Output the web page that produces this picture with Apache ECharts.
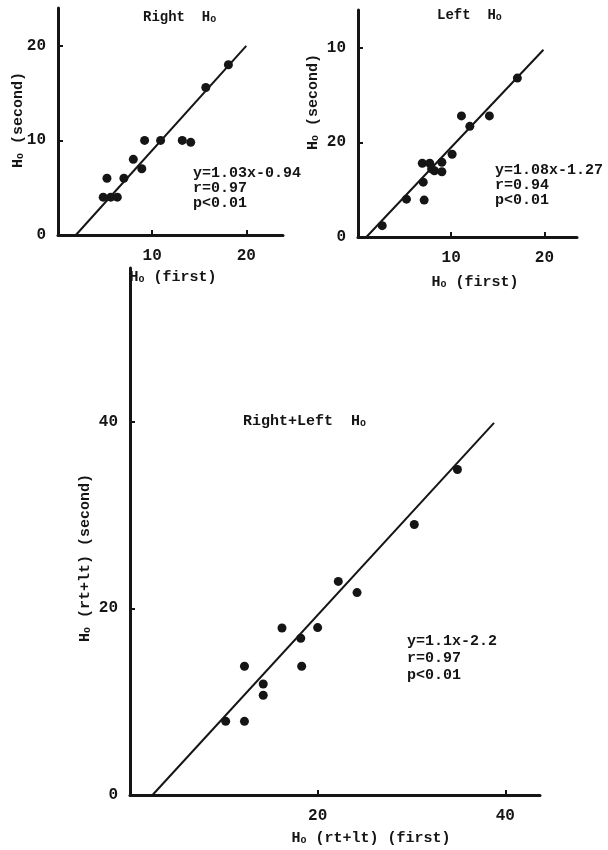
<!DOCTYPE html>
<html>
<head>
<meta charset="utf-8">
<script src="https://cdn.jsdelivr.net/npm/echarts@6/dist/echarts.min.js"></script>
<style>
  html, body { margin: 0; padding: 0; background: #fff; }
  #chart { width: 608px; height: 850px; }
</style>
</head>
<body>
<div id="chart"></div>
<script>
// Right Ho: first vs second
const rightFirst = [4.8, 5.6, 6.3, 5.2, 7.0, 8.0, 8.9, 9.2, 10.9, 13.2, 14.1, 15.7, 18.1]
const rightSecond = [4, 4, 4, 6, 6, 8, 7, 10, 10, 10, 9.8, 15.6, 18]
const rightFit = [[1.9, 0], [20, 20]]

// Left Ho
const leftFirst = [2.6, 5.2, 7.1, 7.0, 6.9, 7.7, 7.9, 8.2, 9.0, 9.0, 10.1, 11.1, 12.0, 14.1, 17.1]
const leftSecond = [1.2, 4.0, 3.9, 5.8, 7.8, 7.8, 7.2, 7.0, 6.9, 7.9, 8.75, 12.8, 11.7, 12.8, 16.8]
const leftFit = [[0.9, 0], [19.9, 19.8]]

// Right+Left Ho
const bothFirst = [10.2, 12.2, 12.2, 14.2, 14.2, 16.2, 18.2, 18.3, 20.0, 22.2, 24.2, 30.3, 34.9]
const bothSecond = [7.9, 7.9, 13.8, 10.7, 11.9, 17.9, 16.8, 13.8, 17.95, 22.9, 21.7, 29.0, 34.9]
const bothFit = [[2.4, 0], [38.8, 39.9]]

// tick labels
const smallXTicks = [10, 20]
const smallYTickValues = [0, 10, 20]
const rightYTickLabels = ['0', '10', '20']
const leftYTickLabels = ['0', '20', '10'] // as printed in the original
const bigXTicks = [20, 40]
const bigYTickValues = [0, 20, 40]
const bigYTickLabels = ['0', '20', '40']

const INK = '#151515'
const FONT = 'Liberation Mono'

const pairs = (xs, ys) => xs.map((x, i) => [x, ys[i]])

const makeX = (gridIndex, max, ticks) => ({
  type: 'value', gridIndex, min: 0, max,
  axisLine: { onZero: false, lineStyle: { color: INK, width: 3 } },
  axisTick: { inside: true, length: 5, customValues: ticks, lineStyle: { color: INK, width: 2 } },
  axisLabel: { customValues: ticks, margin: 13, color: INK, fontFamily: FONT, fontSize: 16, fontWeight: 'bold' },
  splitLine: { show: false }
})

const makeY = (gridIndex, max, values, labels, tickVals) => ({
  type: 'value', gridIndex, min: 0, max,
  axisLine: { onZero: false, lineStyle: { color: INK, width: 3 } },
  axisTick: { inside: true, length: 5, customValues: tickVals, lineStyle: { color: INK, width: 2 } },
  axisLabel: {
    customValues: values, margin: 12, color: INK, fontFamily: FONT, fontSize: 16, fontWeight: 'bold',
    formatter: (v) => labels[values.indexOf(v)]
  },
  splitLine: { show: false }
})

const dots = (xi, yi, data) => ({
  type: 'scatter', xAxisIndex: xi, yAxisIndex: yi, data,
  symbolSize: 9, itemStyle: { color: INK, opacity: 1 }, silent: true
})

const fit = (xi, yi, data) => ({
  type: 'line', xAxisIndex: xi, yAxisIndex: yi, data,
  showSymbol: false, lineStyle: { color: INK, width: 2 }, silent: true
})

const sub = { s: { fontSize: 10, fontFamily: FONT, fontWeight: 'bold', fill: INK, verticalAlign: 'bottom' } }

const label = (x, y, text, opts = {}) => ({
  type: 'text', x, y, rotation: opts.rotation || 0,
  style: {
    text, fill: INK, fontFamily: FONT, fontSize: opts.size || 15, fontWeight: 'bold',
    align: opts.align || 'left', verticalAlign: 'middle', lineHeight: opts.lh || 15, rich: sub
  }
})

const chart = echarts.init(document.getElementById('chart'))
chart.setOption({
  animation: false,
  backgroundColor: '#fff',
  grid: [
    { left: 58, top: 8, width: 225, height: 227 },
    { left: 358, top: 10, width: 219, height: 227 },
    { left: 130, top: 268, width: 410, height: 527 }
  ],
  xAxis: [
    makeX(0, 23.9, smallXTicks),
    makeX(1, 23.5, smallXTicks),
    makeX(2, 43.7, bigXTicks)
  ],
  yAxis: [
    makeY(0, 24, smallYTickValues, rightYTickLabels, [10, 20]),
    makeY(1, 24, smallYTickValues, leftYTickLabels, [10, 20]),
    makeY(2, 56.5, bigYTickValues, bigYTickLabels, [20, 40])
  ],
  series: [
    fit(0, 0, rightFit),
    dots(0, 0, pairs(rightFirst, rightSecond)),
    fit(1, 1, leftFit),
    dots(1, 1, pairs(leftFirst, leftSecond)),
    fit(2, 2, bothFit),
    dots(2, 2, pairs(bothFirst, bothSecond))
  ],
  graphic: [
    label(143, 17, 'Right  H{s|o}', { size: 14 }),
    label(437, 15, 'Left  H{s|o}', { size: 14 }),
    label(243, 421, 'Right+Left  H{s|o}'),

    label(193, 188, 'y=1.03x-0.94\nr=0.97\np<0.01'),
    label(495, 185, 'y=1.08x-1.27\nr=0.94\np<0.01'),
    label(407, 658, 'y=1.1x-2.2\nr=0.97\np<0.01', { lh: 17 }),

    label(173, 277, 'H{s|o} (first)', { align: 'center' }),
    label(475, 282, 'H{s|o} (first)', { align: 'center' }),
    label(371, 838, 'H{s|o} (rt+lt) (first)', { align: 'center' }),

    label(18, 120, 'H{s|o} (second)', { align: 'center', rotation: Math.PI / 2 }),
    label(313, 102, 'H{s|o} (second)', { align: 'center', rotation: Math.PI / 2 }),
    label(85, 558, 'H{s|o} (rt+lt) (second)', { align: 'center', rotation: Math.PI / 2 })
  ]
})
</script>
</body>
</html>
